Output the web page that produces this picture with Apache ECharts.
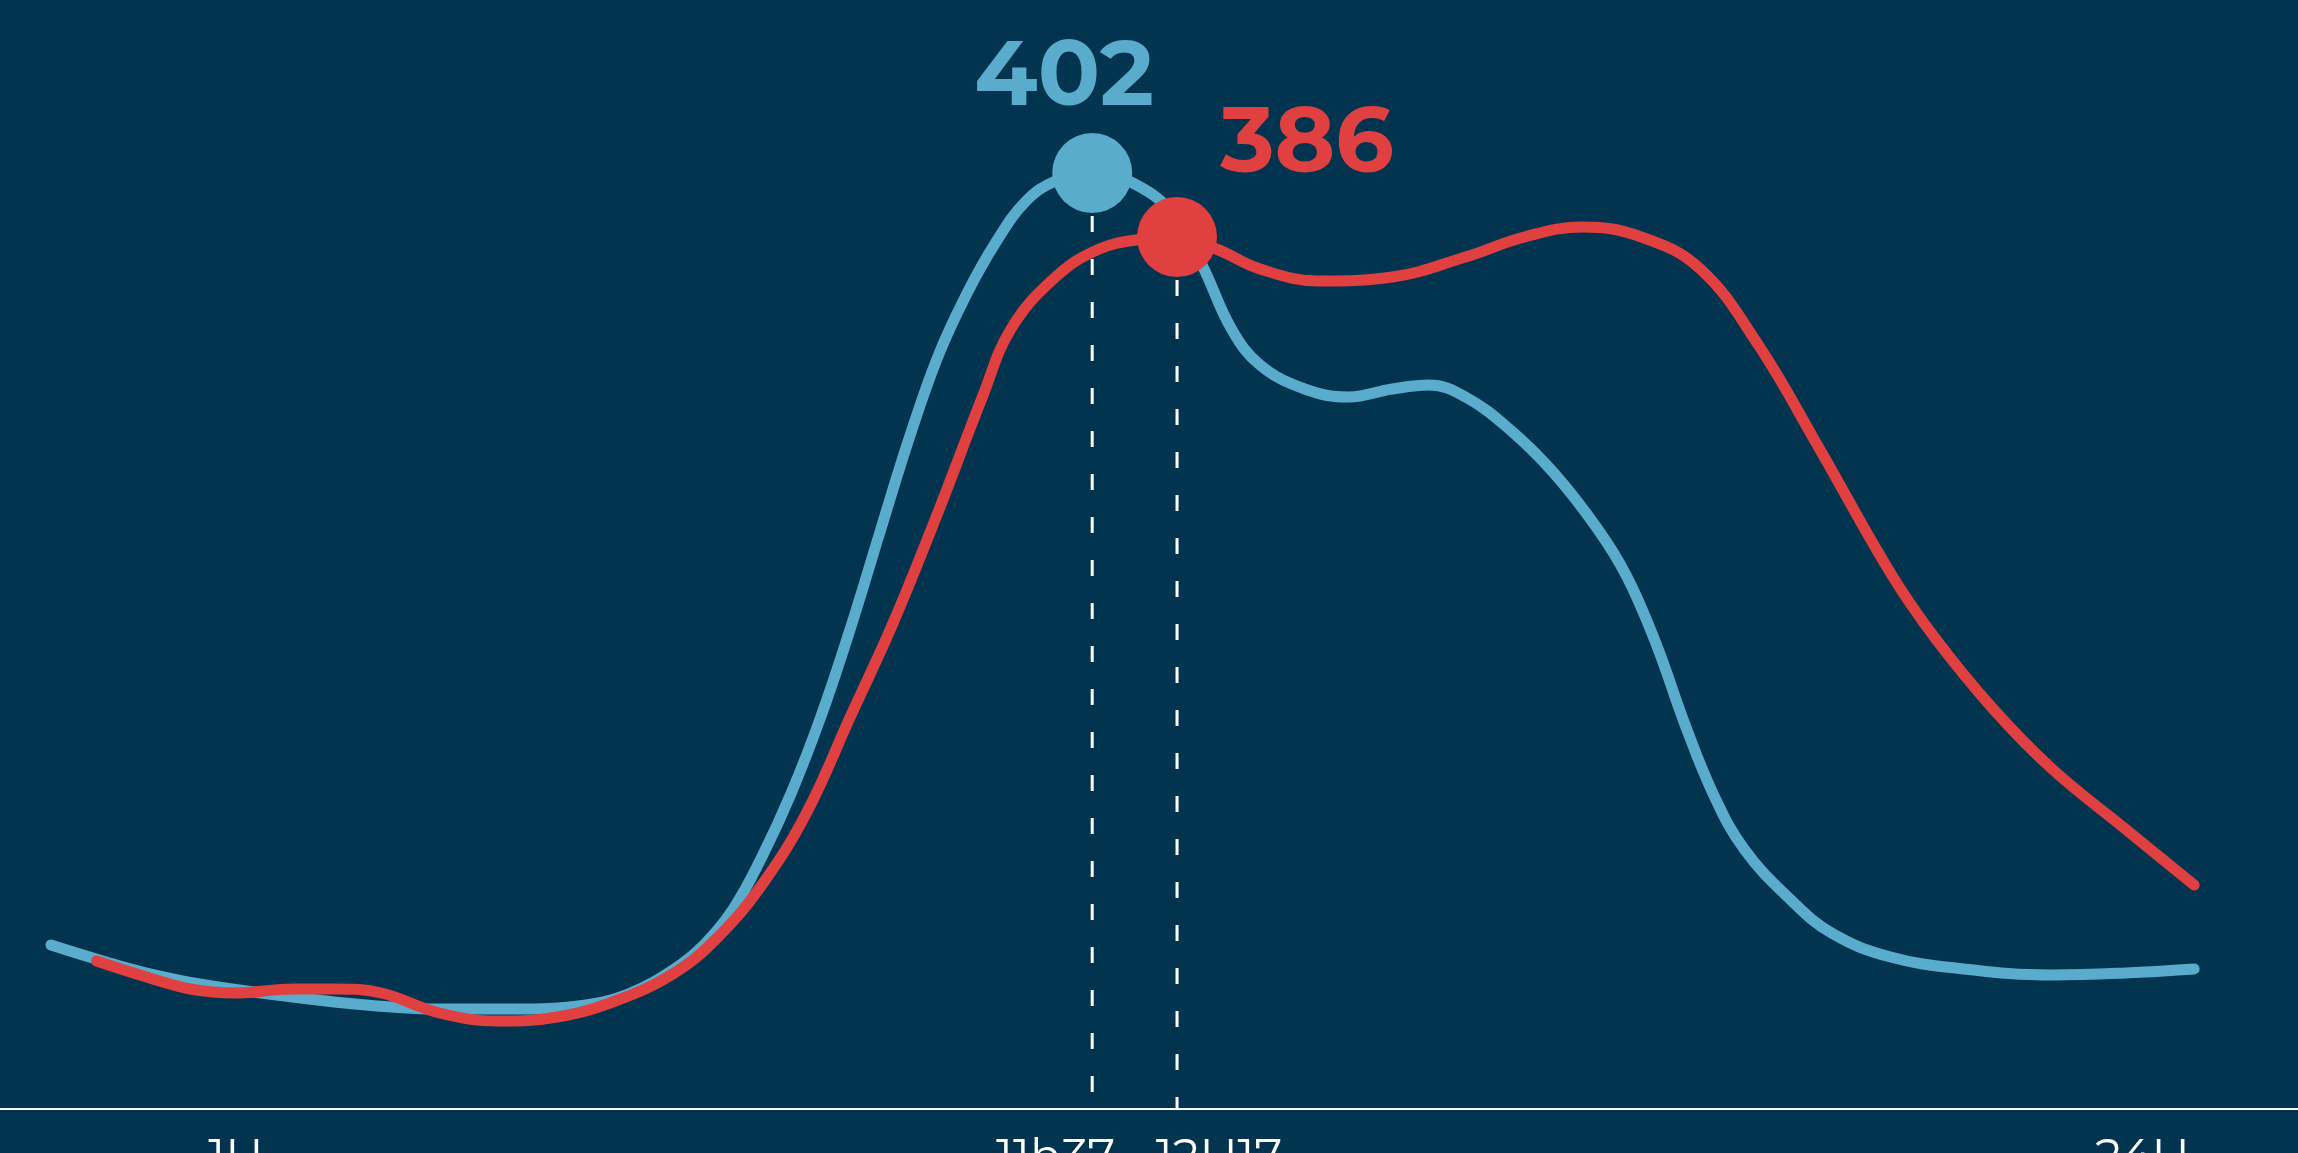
<!DOCTYPE html>
<html>
<head>
<meta charset="utf-8">
<script src="https://cdn.jsdelivr.net/npm/echarts@6/dist/echarts.min.js"></script>
<style>
html,body{margin:0;padding:0;background:#03344f;overflow:hidden;}
#chart{width:2298px;height:1153px;}
</style>
</head>
<body>
<div id="chart"></div>
<script>
// x in hours (position along the day), y in value units
const blueTimes = [0,0.58,1.07,1.73,2.71,3.53,4.35,5.17,5.99,6.49,6.98,7.31,7.64,7.96,8.29,8.62,8.95,9.28,9.6,9.93,10.26,10.59,10.92,11.25,11.66,12.07,12.56,12.89,13.22,13.54,14.04,14.53,15.02,15.43,15.84,16.33,16.83,17.32,17.65,17.98,18.3,18.63,18.96,19.45,19.94,20.6,21.42,22.41,23.23,24];
const blueValues = [209,205,202,199,196,194,193,193,194,197,203,209,218,231,247,266,288,312,335,356,372,385,395,400,402,400,392,379,363,354,348,346,348,349,346,338,327,313,301,284,264,246,233,221,212,206,203,201.5,202,203];
const redTimes = [0.51,1.07,1.56,2.06,2.71,3.2,3.7,4.35,5.01,5.67,6.32,6.98,7.47,7.96,8.46,8.95,9.44,9.93,10.43,10.75,11.25,11.74,12.23,12.61,13.05,13.54,14.2,15.02,15.84,16.5,17.15,17.81,18.47,19.12,19.78,20.6,21.09,21.75,22.41,23.23,24];
const redValues = [205,201,198,197,198,198,197,192,190,191,195,202,211,224,242,266,290,317,346,363,376,383,385.5,386,383,378,375,376,381,386,388.5,386,378,359,334,302,286,268,253,238,224];
const peakTimes = [11.66, 12.61];
const peakValues = [402, 386];
const tickPositions = [2.07, 11.25, 13.08, 23.42];
const tickLabels = ['1H', '11h37', '12H17', '24H'];

const BLUE = '#5aaccd', RED = '#e04040';
const zip = (a, b) => a.map((v, i) => [v, b[i]]);

const chart = echarts.init(document.getElementById('chart'));
chart.setOption({
  backgroundColor: '#03344f',
  animation: false,
  grid: {left: 0, right: 0, top: 1, bottom: 44, containLabel: false, outerBoundsMode: 'none'},
  xAxis: {
    type: 'value', min: -0.571, max: 25.163,
    splitLine: {show: false},
    axisLine: {show: true, onZero: false, lineStyle: {color: '#ffffff', width: 2}},
    axisTick: {show: false},
    axisLabel: {
      customValues: tickPositions,
      color: '#ffffff', fontSize: 47, fontFamily: 'Montserrat, Lato, sans-serif', margin: 26,
      formatter: (v) => { const i = tickPositions.findIndex(t => Math.abs(t - v) < 1e-6); return i >= 0 ? tickLabels[i] : ''; }
    }
  },
  yAxis: {type: 'value', min: 168, max: 445, show: false, splitLine: {show: false}},
  series: [
    {type: 'line', data: zip(blueTimes, blueValues), smooth: 0.4, showSymbol: false,
      lineStyle: {color: BLUE, width: 11, cap: 'round'}, z: 2},
    {type: 'line', data: zip(redTimes, redValues), smooth: 0.4, showSymbol: false,
      lineStyle: {color: RED, width: 11, cap: 'round'}, z: 3},
    {type: 'line', data: [[peakTimes[0], peakValues[0]], [peakTimes[0], 168]], showSymbol: false,
      lineStyle: {color: '#ffffff', width: 3, type: [16, 27]}, z: 1, silent: true},
    {type: 'line', data: [[peakTimes[1], peakValues[1]], [peakTimes[1], 168]], showSymbol: false,
      lineStyle: {color: '#ffffff', width: 3, type: [16, 27]}, z: 1, silent: true},
    {
      type: 'scatter', symbolSize: 80, z: 5,
      data: [
        {value: [peakTimes[0], peakValues[0]], itemStyle: {color: BLUE, opacity: 1},
         label: {show: true, formatter: String(peakValues[0]), color: BLUE, offset: [-28, -95]}},
        {value: [peakTimes[1], peakValues[1]], itemStyle: {color: RED, opacity: 1},
         label: {show: true, formatter: String(peakValues[1]), color: RED, offset: [130, -92]}}
      ],
      label: {position: 'inside', fontSize: 92, fontWeight: 700, fontFamily: 'Montserrat, Lato, sans-serif'}
    }
  ]
});
</script>
</body>
</html>
